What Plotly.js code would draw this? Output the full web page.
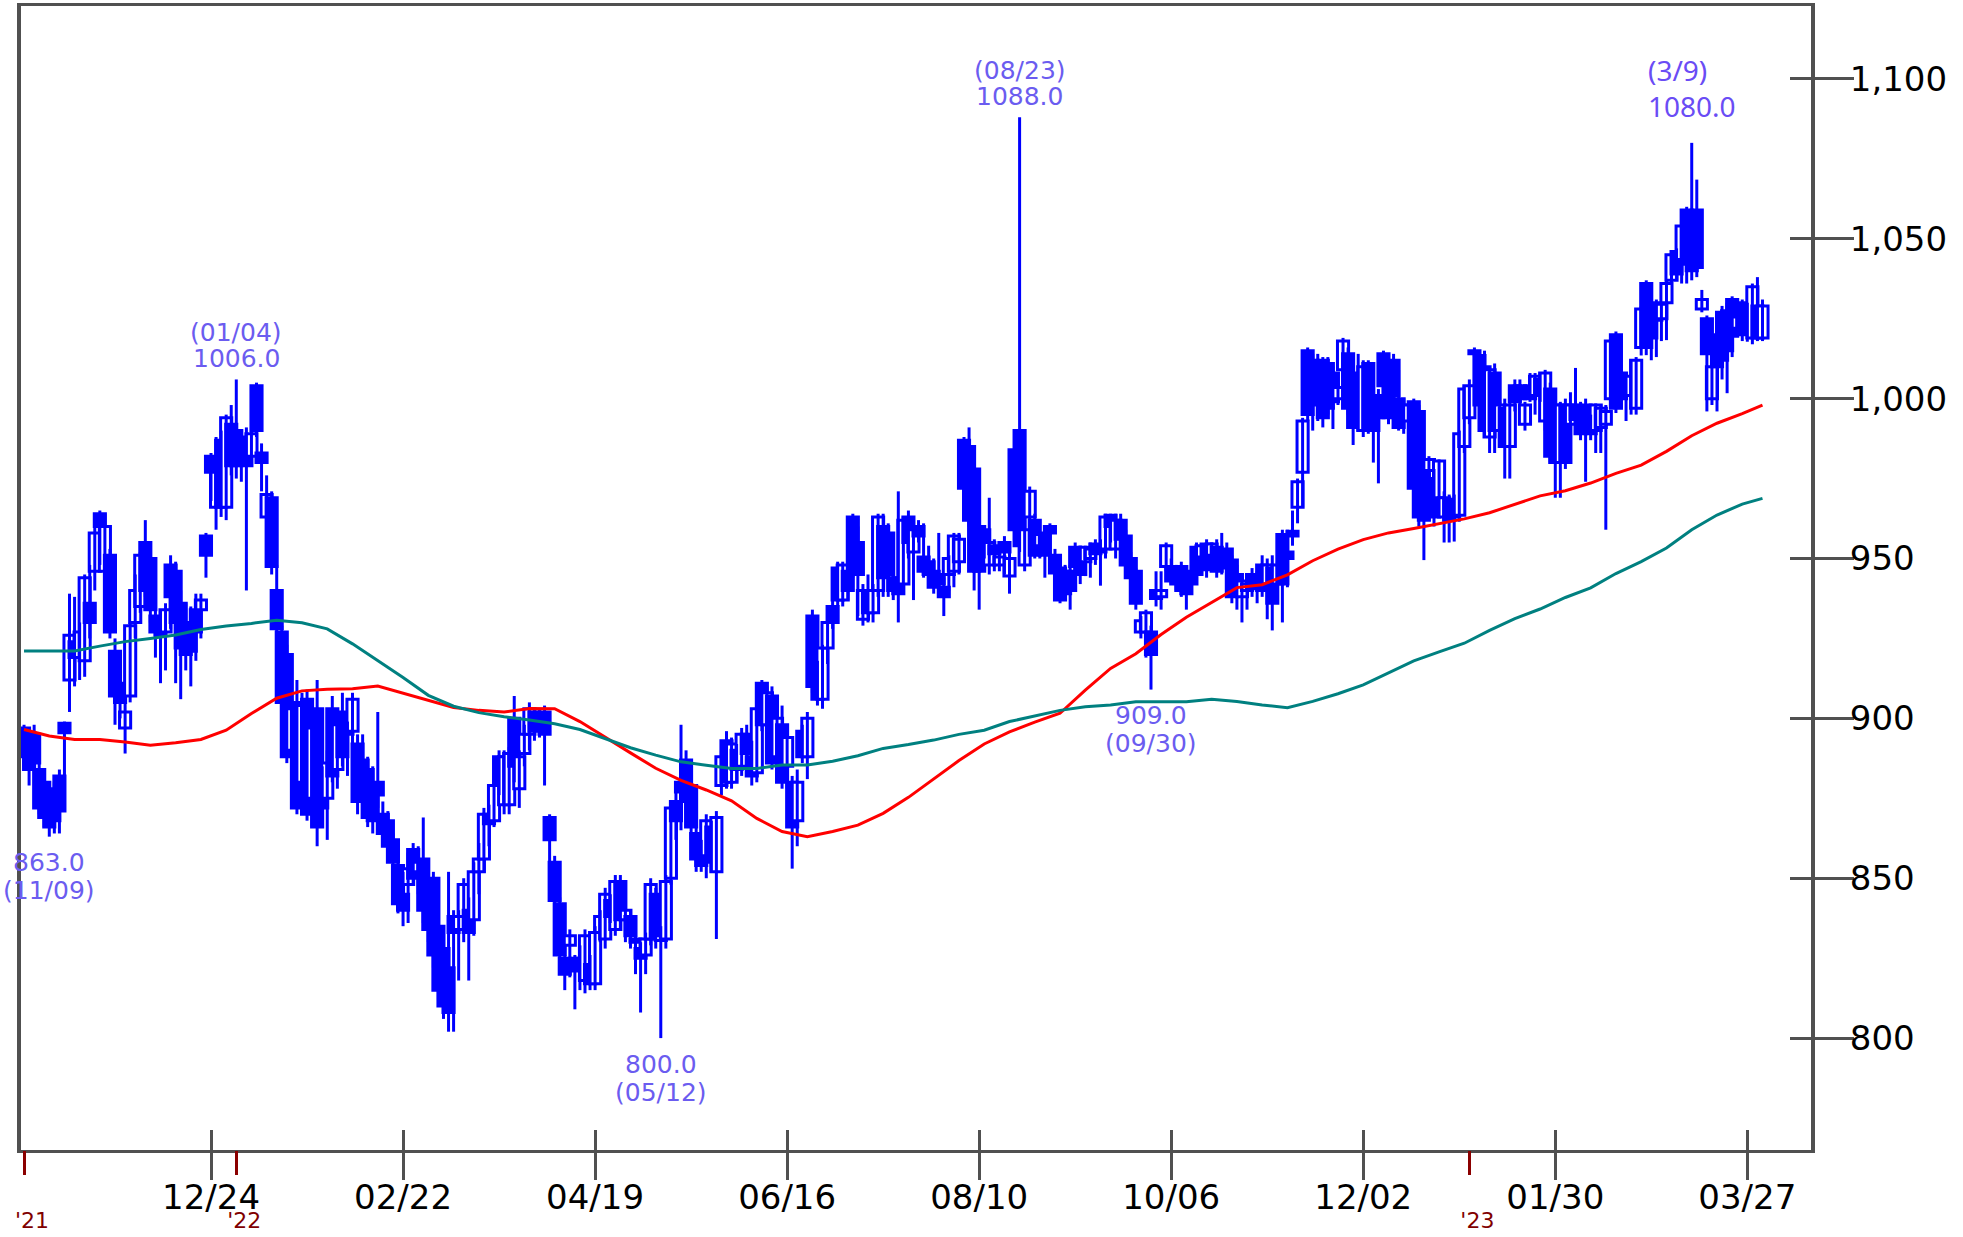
<!DOCTYPE html>
<html>
<head>
<meta charset="utf-8">
<script src="https://cdn.plot.ly/plotly-3.0.1.min.js"></script>
<style>
  html, body { margin: 0; padding: 0; background: #fff; }
  #plot { width: 1963px; height: 1237px; }
</style>
</head>
<body>
<div id="plot"></div>
<script>
// daily candles, 2021/11/01 .. 2023/03/30 (trading days, index 0..344)
var opens = [
  897, 890, 895, 884, 880, 872, 878, 882, 898.5, 912, 924, 919, 918, 936, 946, 964, 946, 951, 921, 911,
  897, 907, 930, 935, 955, 950, 932, 931, 927, 948, 946, 936, 930, 928, 934, 934, 957, 982, 966, 987,
  966, 992, 990, 986, 988, 982, 1004, 983, 963, 969, 940, 927, 920, 890, 905, 880, 906, 875, 903, 880,
  875, 903, 884, 902, 895, 896, 892, 887, 884, 878, 880, 870, 868, 862, 854, 845, 848, 859, 852, 856,
  848, 850, 835, 828, 822, 838, 834, 838, 840, 837, 852, 856, 870, 868, 888, 873, 873, 900, 878, 889,
  895, 902, 899, 902, 869, 855, 842, 825, 829, 825, 825, 818, 823, 817, 833, 831, 843, 834, 849, 837,
  838, 831, 828, 826, 831, 845, 830.5, 831, 850, 874, 880, 887, 879, 864, 860, 857, 866, 852, 879, 893,
  880, 890, 885, 895, 888, 883, 911, 898, 907, 888, 898, 885, 880, 868, 896, 888, 932, 916, 906, 922,
  935, 947, 937, 946, 963, 955, 931, 940, 933, 940, 960, 958, 944, 944, 942, 963, 952, 960, 950.5, 949,
  946, 945, 941, 945, 946, 949, 987, 985, 978, 960, 959, 948, 954, 948, 955, 944.5, 984, 990, 948, 963,
  962, 954, 958, 960, 951, 947, 946, 946, 953.5, 952, 949, 950, 954.5, 954, 953, 963.5, 953, 962, 957, 950,
  946, 927, 927, 927, 940, 938, 947.5, 947.5, 946, 947.5, 944, 946, 953.5, 950.5, 954.5, 951, 953.5, 952, 953, 949.5,
  945, 938, 940, 945, 945, 948, 942, 947, 942, 957.5, 952, 958.5, 966, 977, 1015, 1012, 1010, 1012, 1011, 1008,
  1000, 1009, 1014, 1008, 1005, 990, 1011, 1000, 1001, 1014, 1010, 1012, 1000, 998, 993, 999, 996, 978, 977.5, 975,
  969, 963, 968.5, 968, 963.5, 985, 994, 1015, 1013.5, 1010, 988, 1008, 990, 997, 985, 1004, 1004, 992, 1004, 1001,
  1006, 993, 1003, 998, 980, 998, 992, 998, 997, 998, 991, 990, 991, 992, 1000, 1020, 1008, 1006, 1001, 997,
  1016, 1036, 1028, 1030, 1025, 1030, 1037, 1046, 1043.5, 1059, 1058, 1059, 1028, 1025, 1000, 1020, 1027, 1027.5, 1031, 1022,
  1030, 1029, 1019, 1029, 1019
];
var highs = [
  898, 897, 898, 886, 883, 875, 880, 884, 899, 939, 938, 930, 945, 948, 960, 965, 964, 953, 925, 914,
  905, 930, 945, 952, 962, 955, 935, 934, 936, 951, 949, 940, 936, 935, 939, 939, 958, 983, 988, 990,
  995, 998, 1006, 990, 991, 990, 1005, 986, 976, 971, 948, 929, 923, 906, 912, 908, 909, 900, 912, 885,
  890, 907, 900, 908, 899, 908, 895, 895, 888, 885, 902, 874, 871, 864, 858, 852, 858, 861, 860, 869,
  851, 852, 838, 831, 852, 840, 840, 850, 844, 855, 861, 872, 873, 882, 890, 890, 891, 907, 890, 898,
  905, 903, 903, 904, 870, 857, 844, 826, 834, 826, 829, 834, 826, 835, 840, 847, 845, 851, 851, 842,
  840, 835, 830, 833, 850, 847, 835, 851, 874, 880, 898, 890, 882, 866, 862, 870, 868, 871, 890, 896,
  894, 892, 897, 898, 893, 905, 912, 910, 910, 902, 904, 897, 882, 884, 898, 902, 934, 918, 923, 931,
  937, 949, 949, 950, 964, 960, 942, 945, 942, 964, 964, 961, 948, 971, 963, 965, 960, 962, 961, 954,
  950, 958, 944, 951, 958, 958, 988, 991, 980, 962, 960, 969, 956, 952, 957, 952, 986, 1088, 962, 972.5,
  964, 958, 960, 961, 953, 949, 948, 948, 955, 954, 954, 955, 956, 956, 964, 964, 964, 964, 959, 952,
  947, 932, 934, 929, 946, 946, 955, 950, 948, 949, 946, 948, 955, 954.5, 956, 955, 956, 958, 955, 951,
  948, 944, 944, 947, 946, 951, 950, 951, 949, 959, 959, 965, 975, 994, 1016, 1014, 1014, 1013, 1013, 1010,
  1005, 1019, 1016, 1011, 1014, 1012, 1012, 1005, 1003, 1015, 1014, 1014, 1009, 1000, 999, 1000, 998, 981, 982, 978,
  981, 971, 970, 970, 990, 1004, 1006, 1016, 1015, 1015, 1010, 1011, 999, 1000, 999, 1006, 1006, 999, 1008, 1008,
  1008, 1009, 1005, 1003, 999, 1000, 1002, 1009.6, 999, 1000, 995, 998.5, 998, 998, 1020, 1021, 1009, 1008, 1012, 1013,
  1029, 1037, 1031, 1031, 1030, 1037, 1046, 1047, 1055, 1060, 1080, 1068.5, 1034, 1026, 1014, 1022, 1029, 1030, 1032, 1031,
  1031, 1030, 1036, 1038, 1031
];
var lows = [
  885, 879, 884, 870, 866, 863, 864, 864, 874, 902, 910, 912, 913, 925, 940, 948, 940, 925, 898, 900,
  889, 905, 925, 933, 938, 930, 919, 911, 915, 928, 911, 906, 915, 910, 918, 925, 944, 968, 959, 963,
  962, 976, 975, 974, 940, 979, 988, 971, 960, 945, 924, 903, 886, 884, 870, 875, 868, 866, 860, 868,
  862, 880, 878, 885, 882, 890, 870, 876, 866, 864, 872, 862, 858, 852, 839, 835, 836, 848, 845, 836,
  830, 822, 812, 806, 802, 802, 818, 830, 818, 832, 845, 852, 860, 866, 876, 870, 870, 880, 872, 885,
  890, 893, 894, 879, 844, 841, 824, 815, 819, 809, 815, 814, 815, 815, 830, 828, 836, 832, 834, 830,
  828, 820, 808, 820, 829, 828, 800, 828, 848, 862, 865, 870, 862, 852, 852, 850, 852, 831, 876, 878,
  878, 880, 882, 885, 879, 880, 896, 890, 884, 880, 878, 878, 853, 860, 886, 881, 908, 904, 903, 917,
  928, 935, 935, 937, 944, 932, 929, 930, 930, 938, 938, 938, 937, 930, 940, 950, 937, 955, 944, 942,
  939, 940, 932, 940, 941, 945, 970, 960, 940, 934, 950, 945, 946, 946, 945, 939, 955, 952, 946, 958,
  950, 950, 944, 946, 940, 936, 937, 934, 940, 942, 944.5, 944, 948, 941.5, 950, 955, 950, 954, 946, 942.5,
  934, 925, 919, 909, 935, 934, 946, 942, 940, 938, 934, 940, 943, 949, 944, 949, 944, 945, 946, 936,
  934, 930, 934, 938, 936, 938, 931, 927.5, 936, 930, 941, 954, 961, 966, 993, 990, 993, 991, 995, 990.5,
  998, 1006, 995, 985.5, 990, 988, 989, 980, 973.5, 1002, 992, 993, 990, 989, 988, 969, 960, 949.5, 965, 960,
  963, 955, 955, 955.3, 961.5, 983, 992, 1013, 995, 988, 983, 983, 985, 975, 975, 996, 998, 990, 999, 995,
  999, 990, 980, 969, 969, 978, 988, 990, 987, 974, 987, 983, 983, 959, 998, 995.5, 998, 993, 995, 995,
  1013.5, 1013.6, 1012, 1013, 1018, 1018.3, 1036, 1037, 1036, 1036, 1037, 1038, 1027, 996, 998, 996, 1006, 1001.7, 1013, 1020,
  1018, 1017.8, 1017, 1018, 1018
];
var closes = [
  888, 884, 886, 872, 869, 866, 868, 871, 895.5, 926, 919, 927, 944, 930, 958, 960, 960, 927, 907, 905,
  902, 929, 940, 951, 940, 934, 927, 926, 934, 938, 930, 922, 920, 921, 927, 937, 951, 977, 977, 966,
  994, 979, 979, 980, 979, 989, 990, 980, 970, 947.5, 928, 905, 888, 903, 872, 904, 870, 897, 866, 872,
  886, 882, 898, 888, 896, 906, 874, 883, 869, 868, 876, 864, 860, 855, 842, 840, 853, 850, 855, 840,
  834, 826, 815, 810, 808, 833, 838, 848, 833, 852, 856, 870, 867, 879, 879, 888, 889, 885, 888, 895,
  903, 896, 897, 895, 862, 843, 826, 820, 832, 821, 822, 832, 817, 833, 838, 845, 838, 849, 837, 840,
  832, 830, 825, 831, 848, 831, 832, 849, 872, 868, 877, 874, 866, 856, 854, 868, 855, 869, 888, 880,
  892, 884, 895, 889, 882, 903, 898, 908, 886, 900, 880, 894, 866, 880, 888, 900, 910, 906, 922, 930,
  930, 937, 948, 940, 946, 945, 940, 933, 940, 963, 944, 945, 940, 939, 962, 955, 959, 957, 946, 945,
  941, 942, 938, 950, 957, 956, 972, 962, 946, 946, 955, 955, 951.5, 950.5, 952, 950, 959, 954, 959, 971,
  951, 957.5, 951, 958, 945.5, 937, 939, 940, 947.5, 945, 953.5, 953, 951.5, 952, 963, 960, 962, 956, 948, 944,
  936, 930.5, 933, 920, 937.5, 940, 954, 943, 942, 940, 939, 942, 945, 954, 946.5, 954.5, 946, 947, 948, 938,
  941, 943, 942, 940.5, 941, 940, 948, 936, 948, 942, 950, 957, 974, 993, 995, 998, 1000, 994, 997, 999,
  1003.5, 1018, 997, 991, 993, 1010, 991, 990, 994, 1004, 994, 1001, 991, 993.5, 998, 972, 963, 962, 981, 963,
  980.5, 969, 962, 963, 989, 1003, 1004, 1014, 998, 990, 1009, 990, 998, 985, 998, 999, 1000, 998, 1000, 1007,
  1001, 1008, 982, 980, 998, 980, 998, 993.5, 989, 990, 989, 998, 997, 996, 1018, 997, 1000, 1001.5, 1007, 1012,
  1028, 1016, 1019, 1024.5, 1029.5, 1036, 1045, 1039, 1054, 1042, 1040, 1041, 1031, 1014, 1010, 1010, 1012, 1015, 1019.5, 1025.5,
  1020, 1022, 1035, 1019, 1029
];

// moving averages, every 5 trading days
var maIdx = [0, 5, 10, 15, 20, 25, 30, 35, 40, 45, 50, 55, 60, 65, 70, 75, 80, 85, 90, 95,
  100, 105, 110, 115, 120, 125, 130, 135, 140, 145, 150, 155, 160, 165, 170, 175, 180, 185, 190, 195,
  200, 205, 210, 215, 220, 225, 230, 235, 240, 245, 250, 255, 260, 265, 270, 275, 280, 285, 290, 295,
  300, 305, 310, 315, 320, 325, 330, 335, 340, 344];
var maShort = [896.5, 894.5, 893.4, 893.4, 892.6, 891.6, 892.4, 893.4, 896.3, 901.5, 906.3, 908.6, 909.1, 909.3, 910.1, 907.8, 905.6, 903.4, 902.5, 902.0,
  903.1, 903.0, 899.0, 894.0, 889.2, 884.4, 880.6, 877.6, 874.2, 868.7, 864.6, 863.0, 864.6, 866.6, 870.3, 875.3, 881.0, 886.8, 892.0, 895.8,
  898.8, 901.6, 908.8, 915.6, 920.2, 926.2, 931.6, 936.3, 940.9, 941.8, 944.9, 949.3, 952.9, 955.9, 958.0, 959.4, 961.0, 962.4, 964.3, 966.9,
  969.6, 971.2, 973.6, 976.6, 979.2, 983.5, 988.4, 992.3, 995.3, 998.0];
var maLong = [921.1, 921.1, 921.1, 922.6, 924.0, 925.0, 926.1, 927.8, 928.9, 929.7, 930.7, 929.9, 928.0, 923.3, 918.0, 912.8, 907.2, 903.8, 901.8, 900.5,
  899.5, 898.3, 896.5, 893.7, 890.8, 888.5, 886.4, 885.3, 884.3, 884.3, 885.4, 885.4, 886.6, 888.3, 890.6, 891.8, 893.2, 895.0, 896.3, 899.0,
  900.8, 902.5, 903.6, 904.2, 905.2, 905.2, 905.2, 906.0, 905.3, 904.2, 903.3, 905.3, 907.7, 910.5, 914.2, 918.0, 920.8, 923.5, 927.5, 931.2,
  934.2, 937.8, 940.8, 945.3, 949.0, 953.3, 959.0, 963.6, 967.0, 968.8];

// axis labels
var tickIdx = [37, 75, 113, 151, 189, 227, 265, 303, 341];
var tickText = ['12/24', '02/22', '04/19', '06/16', '08/10', '10/06', '12/02', '01/30', '03/27'];
var yearIdx = [0, 42, 286];
var yearText = ["'21", "'22", "'23"];
var priceTicks = [800, 850, 900, 950, 1000, 1050, 1100];

// high / low markers
var markIdx = [5, 42, 126, 197, 223, 330];
var markDate = ['(11/09)', '(01/04)', '(05/12)', '(08/23)', '(09/30)', '(3/9)'];
var markKind = ['low', 'high', 'low', 'high', 'low', 'high'];

var BLUE = '#0000ff';
var xRange = [-0.6, 353.6];
var yRange = [765, 1122.8];

var idx = opens.map(function(o, i) { return i; });

// wicks
var wickX = [], wickY = [];
for (var i = 0; i < opens.length; i++) {
  wickX.push(i, i, null);
  wickY.push(lows[i], highs[i], null);
}

var wicks = {
  type: 'scatter', mode: 'lines',
  x: wickX, y: wickY,
  line: {color: BLUE, width: 3},
  hoverinfo: 'skip'
};

// bodies: hollow when close >= open
var bodies = {
  type: 'bar',
  x: idx,
  base: opens.map(function(o, i) { return Math.min(o, closes[i]); }),
  y: opens.map(function(o, i) { return Math.abs(closes[i] - o); }),
  width: 2.2,
  marker: {
    color: opens.map(function(o, i) { return closes[i] >= o ? '#ffffff' : BLUE; }),
    line: {color: BLUE, width: 3}
  },
  hoverinfo: 'skip'
};

var shortLine = {
  type: 'scatter', mode: 'lines',
  x: maIdx, y: maShort,
  xaxis: 'x2', yaxis: 'y2',
  line: {color: '#ff0000', width: 3},
  hoverinfo: 'skip'
};

var longLine = {
  type: 'scatter', mode: 'lines',
  x: maIdx, y: maLong,
  xaxis: 'x3', yaxis: 'y2',
  line: {color: '#008080', width: 3},
  hoverinfo: 'skip'
};

var annotations = [];
markIdx.forEach(function(k, j) {
  var big = markDate[j] === '(3/9)';
  var font = big ? {family: 'Noto Sans', size: 28, color: '#6a4cf5'}
                 : {family: 'DejaVu Sans', size: 25, color: '#6b5cf0'};
  var val, valShift, dateShift;
  if (markKind[j] === 'high') {
    val = highs[k];
    valShift = big ? 37 : 21;
    dateShift = big ? 73 : 47;
  } else {
    val = lows[k];
    valShift = -26;
    dateShift = -54;
  }
  var base = {x: k, y: val, xref: 'x', yref: 'y', showarrow: false,
              yanchor: 'middle', font: font};
  if (big) {
    base.xanchor = 'left';
    base.xshift = -46;
  } else {
    base.xanchor = 'center';
  }
  annotations.push(Object.assign({}, base, {text: val.toFixed(1), yshift: valShift}));
  annotations.push(Object.assign({}, base, {text: markDate[j], yshift: dateShift}));
});

var layout = {
  width: 1963, height: 1237,
  margin: {l: 21, r: 152, t: 6, b: 87},
  paper_bgcolor: '#ffffff', plot_bgcolor: '#ffffff',
  showlegend: false,
  barmode: 'overlay',
  xaxis: {
    range: xRange, tickvals: tickIdx, ticktext: tickText,
    ticks: 'outside', ticklen: 27, tickwidth: 3, tickcolor: '#505050',
    ticklabelstandoff: -12,
    showgrid: false, zeroline: false,
    showline: true, linecolor: '#505050', linewidth: 3, mirror: true,
    tickfont: {family: 'DejaVu Sans', size: 34, color: '#000000'}
  },
  xaxis2: {
    overlaying: 'x', anchor: 'y', range: xRange, tickvals: tickIdx,
    ticks: 'inside', ticklen: 20, tickwidth: 3, tickcolor: '#505050',
    showticklabels: false, showgrid: false, zeroline: false, showline: false
  },
  xaxis3: {
    overlaying: 'x', anchor: 'y', range: xRange, tickvals: yearIdx, ticktext: yearText,
    ticks: 'outside', ticklen: 24, tickwidth: 3, tickcolor: '#8b0000',
    ticklabelstandoff: 27, ticklabelshift: 8,
    showgrid: false, zeroline: false, showline: false,
    tickfont: {family: 'DejaVu Sans', size: 22, color: '#800000'}
  },
  yaxis: {
    range: yRange, side: 'right', tickvals: priceTicks, tickformat: ',',
    ticks: 'outside', ticklen: 39, tickwidth: 3, tickcolor: '#505050',
    ticklabelstandoff: -11,
    showgrid: false, zeroline: false,
    showline: true, linecolor: '#505050', linewidth: 4, mirror: true,
    tickfont: {family: 'DejaVu Sans', size: 34, color: '#000000'}
  },
  yaxis2: {
    overlaying: 'y', anchor: 'x', side: 'right', range: yRange, tickvals: priceTicks,
    ticks: 'inside', ticklen: 21, tickwidth: 3, tickcolor: '#505050',
    showticklabels: false, showgrid: false, zeroline: false, showline: false
  },
  annotations: annotations
};

Plotly.newPlot('plot', [wicks, bodies, shortLine, longLine], layout, {staticPlot: true});
</script>
</body>
</html>
